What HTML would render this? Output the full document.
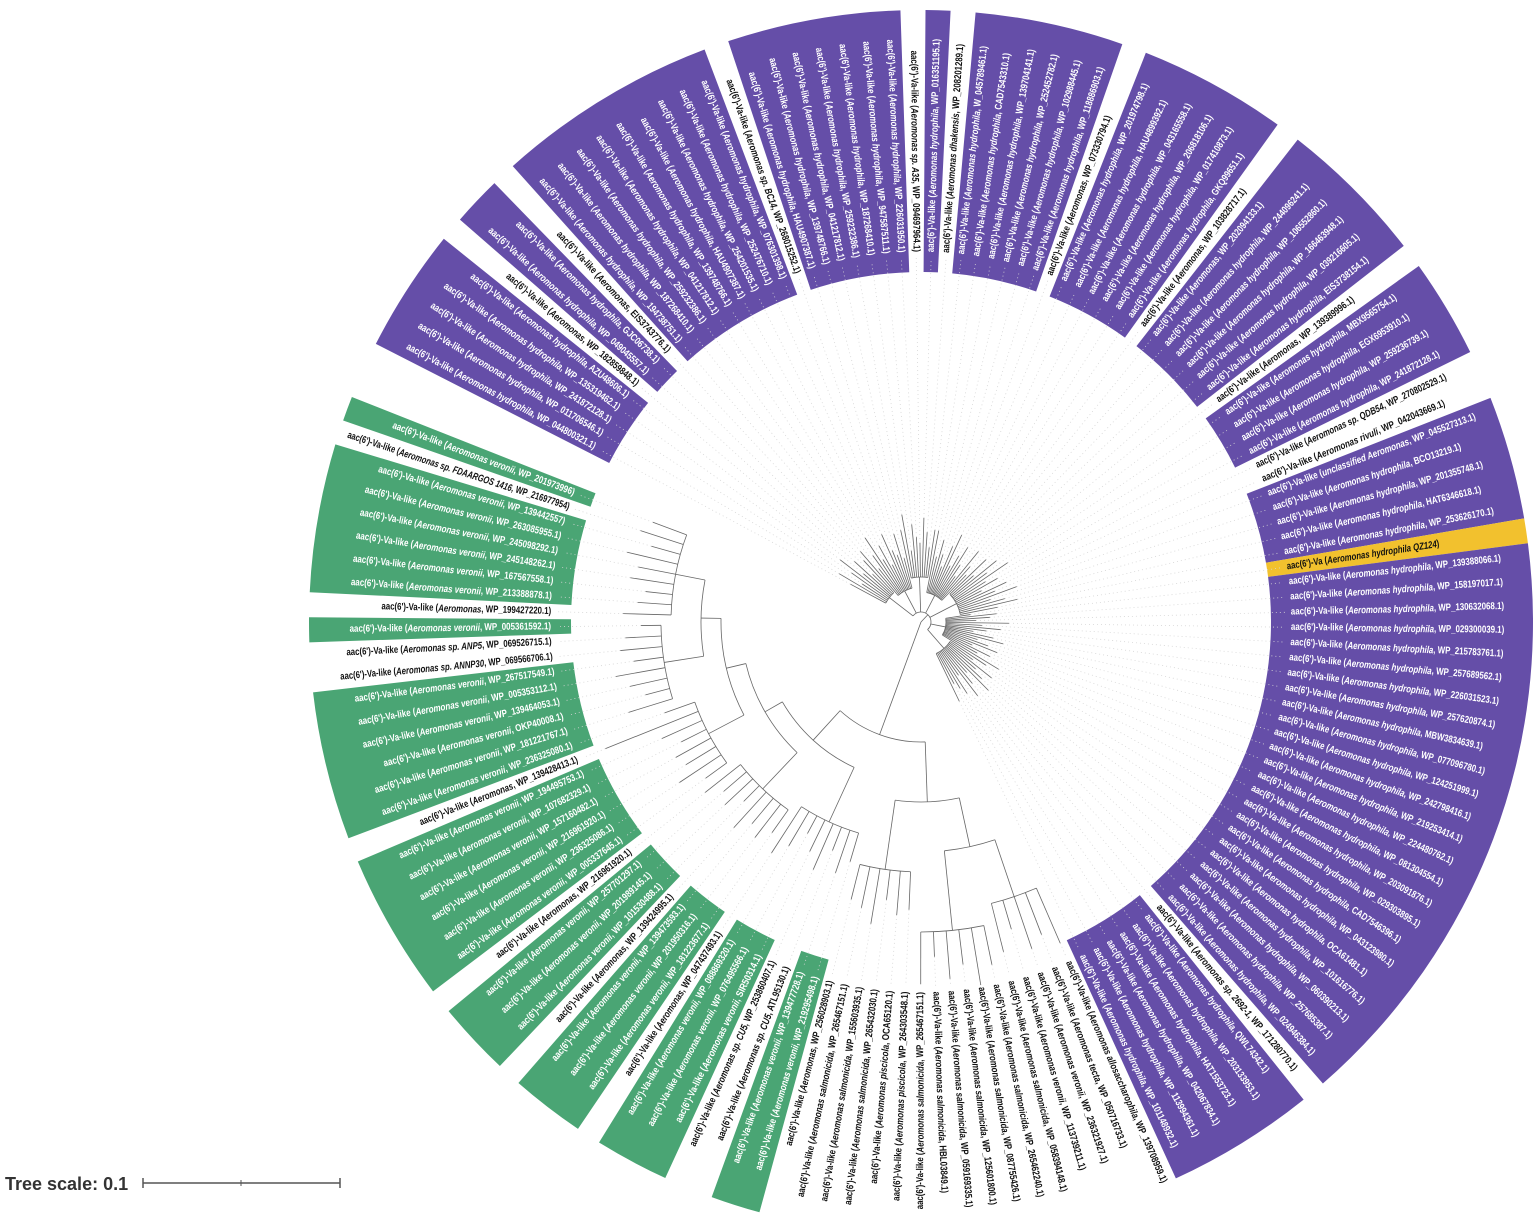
<!DOCTYPE html>
<html><head><meta charset="utf-8"><title>Circular phylogenetic tree</title>
<style>
html,body{margin:0;padding:0;background:#fff;}
svg{display:block;}
.lbl{font-family:"Liberation Sans",sans-serif;font-weight:bold;font-size:10px;}
</style></head>
<body>
<svg id="chart" width="1535" height="1228" viewBox="0 0 1535 1228" xmlns="http://www.w3.org/2000/svg">
  <g id="bands"></g>
  <g id="guides"></g>
  <g id="tree"></g>
  <g id="labels"></g>
  <g>
    <text x="5" y="1190" font-family="Liberation Sans, sans-serif" font-weight="bold" font-size="18" fill="#333">Tree scale: 0.1</text>
    <line x1="143" y1="1183" x2="340" y2="1183" stroke="#555" stroke-width="1.5"/>
    <line x1="143" y1="1178" x2="143" y2="1188" stroke="#555" stroke-width="1.5"/>
    <line x1="241" y1="1180" x2="241" y2="1186" stroke="#555" stroke-width="1"/>
    <line x1="340" y1="1178" x2="340" y2="1188" stroke="#555" stroke-width="1.5"/>
  </g>
</svg>
<script>
// ---- data ----
const leafColors = "pppppwppwpppppppppwpppppppwpwppppppwppppppwppppppwppppwwpppppyppppppppppppppppppppppppwppppppwwwwwwwwwwwwwwwwwggwwgggwgggwgggwggggggwggggggwwgwggggggwg";
const leafSpecies = [
"Aeromonas hydrophila","Aeromonas hydrophila","Aeromonas hydrophila","Aeromonas hydrophila","Aeromonas hydrophila","Aeromonas","Aeromonas hydrophila","Aeromonas hydrophila","Aeromonas",
"Aeromonas hydrophila","Aeromonas hydrophila","Aeromonas hydrophila","Aeromonas hydrophila","Aeromonas hydrophila","Aeromonas hydrophila","Aeromonas hydrophila","Aeromonas hydrophila","Aeromonas hydrophila",
"Aeromonas sp. BC14","Aeromonas hydrophila","Aeromonas hydrophila","Aeromonas hydrophila","Aeromonas hydrophila","Aeromonas hydrophila","Aeromonas hydrophila","Aeromonas hydrophila",
"Aeromonas sp. A35","Aeromonas hydrophila","Aeromonas dhakensis",
"Aeromonas hydrophila","Aeromonas hydrophila","Aeromonas hydrophila","Aeromonas hydrophila","Aeromonas hydrophila","Aeromonas hydrophila","Aeromonas",
"Aeromonas hydrophila","Aeromonas hydrophila","Aeromonas hydrophila","Aeromonas hydrophila","Aeromonas hydrophila","Aeromonas hydrophila","Aeromonas",
"Aeromonas","Aeromonas hydrophila","Aeromonas hydrophila","Aeromonas hydrophila","Aeromonas hydrophila","Aeromonas hydrophila","Aeromonas",
"Aeromonas hydrophila","Aeromonas hydrophila","Aeromonas hydrophila","Aeromonas hydrophila","Aeromonas sp. QDB54","Aeromonas rivuli","unclassified Aeromonas",
"Aeromonas hydrophila","Aeromonas hydrophila","Aeromonas hydrophila","Aeromonas hydrophila","Aeromonas hydrophila QZ124",
"Aeromonas hydrophila","Aeromonas hydrophila","Aeromonas hydrophila","Aeromonas hydrophila","Aeromonas hydrophila","Aeromonas hydrophila","Aeromonas hydrophila","Aeromonas hydrophila",
"Aeromonas hydrophila","Aeromonas hydrophila","Aeromonas hydrophila","Aeromonas hydrophila","Aeromonas hydrophila","Aeromonas hydrophila","Aeromonas hydrophila","Aeromonas hydrophila",
"Aeromonas hydrophila","Aeromonas hydrophila","Aeromonas hydrophila","Aeromonas hydrophila","Aeromonas hydrophila","Aeromonas hydrophila","Aeromonas hydrophila","Aeromonas hydrophila",
"Aeromonas sp. 2692-1","Aeromonas hydrophila","Aeromonas hydrophila","Aeromonas hydrophila","Aeromonas hydrophila","Aeromonas hydrophila","Aeromonas hydrophila",
"Aeromonas allosaccharophila","Aeromonas tecta","Aeromonas veronii","Aeromonas veronii","Aeromonas salmonicida","Aeromonas salmonicida","Aeromonas salmonicida","Aeromonas salmonicida","Aeromonas salmonicida","Aeromonas salmonicida","Aeromonas salmonicida","Aeromonas piscicola","Aeromonas piscicola","Aeromonas salmonicida","Aeromonas salmonicida","Aeromonas salmonicida","Aeromonas",
"Aeromonas veronii","Aeromonas veronii","Aeromonas sp. CU5","Aeromonas sp. CU5","Aeromonas veronii","Aeromonas veronii","Aeromonas veronii","Aeromonas",
"Aeromonas veronii","Aeromonas veronii","Aeromonas veronii","Aeromonas","Aeromonas veronii","Aeromonas veronii","Aeromonas veronii","Aeromonas",
"Aeromonas veronii","Aeromonas veronii","Aeromonas veronii","Aeromonas veronii","Aeromonas veronii","Aeromonas veronii","Aeromonas",
"Aeromonas veronii","Aeromonas veronii","Aeromonas veronii","Aeromonas veronii","Aeromonas veronii","Aeromonas veronii","Aeromonas sp. ANNP30","Aeromonas sp. ANP5","Aeromonas veronii","Aeromonas",
"Aeromonas veronii","Aeromonas veronii","Aeromonas veronii","Aeromonas veronii","Aeromonas veronii","Aeromonas veronii","Aeromonas sp. FDAARGOS 1416","Aeromonas veronii"];
const leafIds = [
"WP_044800321.1","WP_011706546.1","WP_241872128.1","WP_135319462.1","AZU48606.1","WP_182859848.1","WP_049045557.1","GJC06738.1","EIS3743776.1",
"WP_194738751.1","WP_187268410.1","WP_259232386.1","WP_041217812.1","WP_139748766.1","HAU4907387.1","WP_254201535.1","WP_252476710.1","WP_076301398.1",
"WP_268015252.1","HAU4907387.1","WP_139748766.1","WP_041217812.1","WP_259232386.1","WP_187268410.1","WP_947587511.1","WP_226031950.1",
"WP_094697964.1","WP_016351195.1","WP_208201289.1",
"W_045789461.1","CAD7543310.1","WP_139704141.1","WP_252452782.1","WP_102988445.1","WP_118886903.1","WP_073330794.1",
"WP_201974798.1","HAU4899392.1","WP_043165558.1","WP_206818106.1","WP_017410873.1","GKQ99651.1","WP_103828717.1",
"WP_202094133.1","WP_244096241.1","WP_106552860.1","WP_166463948.1","WP_039216605.1","EIS3738154.1","WP_139389996.1",
"MBX9565754.1","EGX6953910.1","WP_259236739.1","WP_241872128.1","WP_270802529.1","WP_042043669.1","WP_045527313.1",
"BCO13219.1","WP_201355748.1","HAT6346618.1","WP_253626170.1","",
"WP_139388066.1","WP_158197017.1","WP_130632068.1","WP_029300039.1","WP_215783761.1","WP_257689562.1","WP_226031523.1","WP_257620874.1",
"MBW3834639.1","WP_077096780.1","WP_124251999.1","WP_242798416.1","WP_219253414.1","WP_224480762.1","WP_081304554.1","WP_203091876.1",
"WP_029303895.1","CAD7546396.1","WP_043123980.1","OCA61481.1","WP_101616776.1","WP_060390213.1","WP_257685387.1","WP_024946384.1",
"WP_171280770.1","QWL74342.1","WP_203133953.1","HAT1553723.1","WP_042067834.1","WP_113994361.1","WP_101148932.1",
"WP_139708959.1","WP_050716733.1","WP_236321927.1","WP_113739211.1","WP_058394148.1","WP_265462240.1","WP_087755426.1","WP_125601800.1","WP_059169335.1","HBL03849.1","WP_265467151.1","WP_264303548.1","OCA65120.1","WP_265432030.1","WP_155603935.1","WP_265467151.1","WP_256028903.1",
"WP_219295498.1","WP_139477728.1","ATL95130.1","WP_253860407.1","SIR50314.1","WP_076495566.1","WP_088869320.1","WP_047437493.1",
"WP_181223677.1","WP_201950316.1","WP_139473593.1","WP_139424995.1","WP_101530488.1","WP_201989145.1","WP_257701297.1","WP_216961920.1",
"WP_005337645.1","WP_236325086.1","WP_216961920.1","WP_157160482.1","WP_107682329.1","WP_194495753.1","WP_139428413.1",
"WP_236325080.1","WP_181221767.1","OKP40008.1","WP_139464053.1","WP_005353112.1","WP_267517549.1","WP_069566706.1","WP_069526715.1","WP_005361592.1","WP_199427220.1",
"WP_213388878.1","WP_167567558.1","WP_245148262.1","WP_245098292.1","WP_263085955.1","WP_139442557","WP_216977954","WP_201973996"];
const leafBL = [40,55,30,45,62,35,50,28,44,58,33,47,66,38,52,29,61,42,36,57,31,49,64,27,53,40,34,59,45,30,48,63,37,55,41,29,52,66,33,46,58,39,27,61,44,35,50,30,57,42,65,36,48,28,54,40,62,33,47,59,38,25,51,44,30,63,36,55,41,28,49,60,34,46,57,31,52,39,66,43,29,55,37,48,61,33,45,58,30,50,42,35,53,
60,45,55,30,50,40,58,35,48,25,52,38,44,30,56,42,36,
30,45,25,50,35,20,40,55,28,42,33,48,22,38,30,45,26,50,35,40,28,44,100,32,46,25,38,50,30,42,36,20,48,34,27,44,38,52,30,45,36];
const cladeTree = [0,
  [10, ["range",30,0,8],["range",25,9,20],["range",35,21,30],["range",20,31,45],["range",30,46,60],["range",15,61,78],["range",25,79,92]],
  [120,
    [60, [50,["range",60,93,97],["range",80,98,103]], ["range",70,104,109]],
    [40, ["range",60,110,117], [20, ["range",50,118,125], [20, ["range",40,126,133], [20, ["range",40,134,141], ["range",30,142,150]]]]]
  ]
];
// ---- layout ----
const NS="http://www.w3.org/2000/svg";
const CX=921, CY=622, R_LABEL=370, BAND_IN=350, BAND_OUT=612, A0=208.2, STEP=2.348;
const N=leafIds.length;
function ang(i){return A0+STEP*i;}
function pt(r,a){const t=a*Math.PI/180;return [CX+r*Math.cos(t),CY+r*Math.sin(t)];}
function el(tag,attrs,parent){const e=document.createElementNS(NS,tag);for(const k in attrs)e.setAttribute(k,attrs[k]);parent.appendChild(e);return e;}
const gB=document.getElementById('bands'),gG=document.getElementById('guides'),gT=document.getElementById('tree'),gL=document.getElementById('labels');
const colorMap={p:"#654ea8",g:"#4aa574",y:"#f2c12e"};
let i=0;
while(i<N){
  const c=leafColors[i];
  if(c==='w'){i++;continue;}
  let j=i;while(j+1<N&&leafColors[j+1]===c)j++;
  const a1=ang(i)-STEP/2,a2=ang(j)+STEP/2;
  const p1=pt(BAND_IN,a1),p2=pt(BAND_OUT,a1),p3=pt(BAND_OUT,a2),p4=pt(BAND_IN,a2);
  const lg=(a2-a1)>180?1:0;
  const b=el('path',{d:`M${p1}L${p2}A${BAND_OUT},${BAND_OUT} 0 ${lg} 1 ${p3}L${p4}A${BAND_IN},${BAND_IN} 0 ${lg} 0 ${p1}Z`,fill:colorMap[c]},gB);
  
  
  i=j+1;
}
function drawRadial(r1,r2,a,name){
  if(r2<=r1)return;
  const l=el('line',{x1:pt(r1,a)[0],y1:pt(r1,a)[1],x2:pt(r2,a)[0],y2:pt(r2,a)[1],stroke:"#666","stroke-width":0.8},gT);
  
  
}
function drawArc(r,a1,a2){
  if(r<=0||a2<=a1)return;
  const p1=pt(r,a1),p2=pt(r,a2);
  const ar=el('path',{d:`M${p1}A${r},${r} 0 ${(a2-a1)>180?1:0} 1 ${p2}`,fill:"none",stroke:"#666","stroke-width":0.8},gT);
  
  
}
function layoutLeaf(idx,parentR){
  const a=ang(idx),r=parentR+(leafBL[idx]??40);
  drawRadial(parentR,r,a,'leaf-branch');
  const p1=pt(r,a),p2=pt(R_LABEL-6,a);
  const g=el('line',{x1:p1[0],y1:p1[1],x2:p2[0],y2:p2[1],stroke:"#d6d6d6","stroke-width":0.8,"stroke-dasharray":"1 3"},gG);
  
  
  return a;
}
function layout(node,parentR){
  if(typeof node==='number')return layoutLeaf(node,parentR);
  if(node[0]==="range"){
    const r=parentR+node[1];const as=[];
    for(let k=node[2];k<=node[3];k++)as.push(layoutLeaf(k,r));
    const a=(Math.min(...as)+Math.max(...as))/2;
    drawArc(r,Math.min(...as),Math.max(...as));drawRadial(parentR,r,a,'clade-branch');return a;
  }
  const r=parentR+node[0];const as=[];
  for(let k=1;k<node.length;k++)as.push(layout(node[k],r));
  const a=(Math.min(...as)+Math.max(...as))/2;
  drawArc(r,Math.min(...as),Math.max(...as));drawRadial(parentR,r,a,'clade-branch');return a;
}
layout(cladeTree,0);
for(let k=0;k<N;k++){
  const a=ang(k);const norm=((a%360)+360)%360;
  const left=norm>90&&norm<270;
  const c=leafColors[k];
  const t=el('text',{class:"lbl","dominant-baseline":"central",fill:c==='w'?"#111":(c==='y'?"#111":"#fff"),
    transform:`translate(${CX},${CY}) rotate(${a}) translate(${R_LABEL},0)`+(left?" rotate(180)":""),
    "text-anchor":left?"end":"start"},gL);
  
  
  let full;
  if(c==='y'){
    t.appendChild(document.createTextNode("aac(6')-Va ("));
    const s=el('tspan',{"font-style":"italic"},t);s.textContent=leafSpecies[k];
    t.appendChild(document.createTextNode(")"));
    full="aac(6')-Va ("+leafSpecies[k]+")";
  }else{
    t.appendChild(document.createTextNode("aac(6')-Va-like ("));
    const s=el('tspan',{"font-style":"italic"},t);s.textContent=leafSpecies[k];
    t.appendChild(document.createTextNode(", "+leafIds[k]+")"));
    full="aac(6')-Va-like ("+leafSpecies[k]+", "+leafIds[k]+")";
  }
  t.setAttribute('textLength',(full.length*3.95).toFixed(1));
  t.setAttribute('lengthAdjust','spacingAndGlyphs');
}
</script>
</body></html>
